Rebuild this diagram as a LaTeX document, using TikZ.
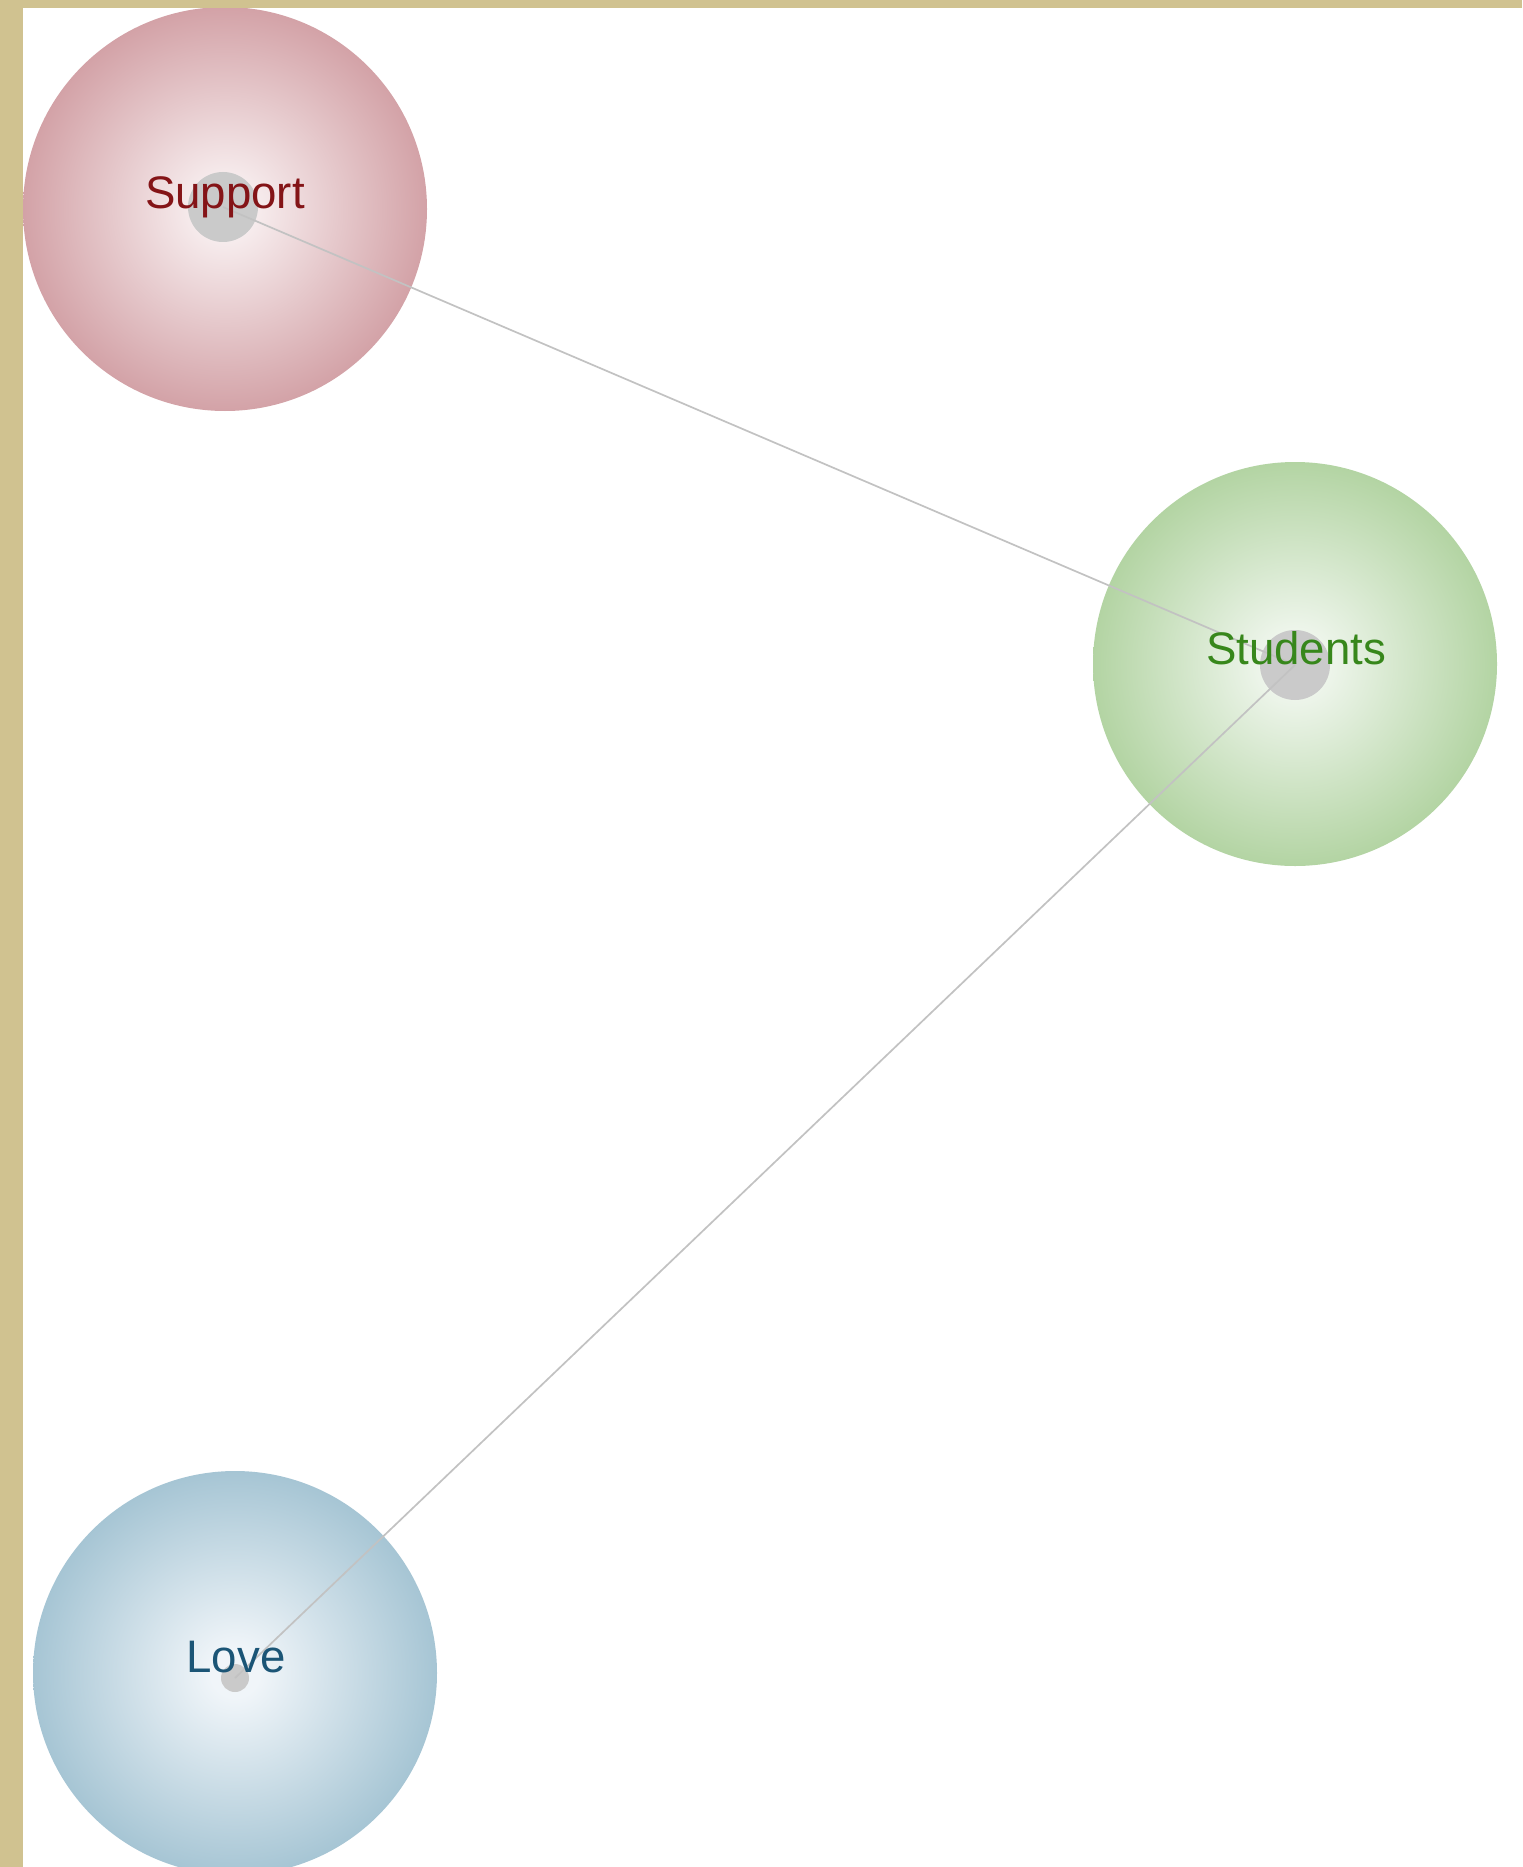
\documentclass[tikz,border=0pt]{standalone}
\usepackage{fontspec}
\setmainfont{Liberation Sans}
\definecolor{framecol}{HTML}{D0C290}
\definecolor{suppin}{HTML}{F8EFF0}
\definecolor{suppout}{HTML}{D3A2A7}
\definecolor{studin}{HTML}{F1F7EF}
\definecolor{studout}{HTML}{B3D4A3}
\definecolor{lovein}{HTML}{F0F5F9}
\definecolor{loveout}{HTML}{A6C5D4}
\definecolor{supptext}{HTML}{841417}
\definecolor{studtext}{HTML}{37871B}
\definecolor{lovetext}{HTML}{1B5576}
\definecolor{dotcol}{HTML}{CACACA}
\definecolor{linkcol}{HTML}{C2C2C2}
\pgfdeclareradialshading{suppshade}{\pgfpoint{0bp}{0bp}}{color(0bp)=(suppin); color(3bp)=(suppin); color(25bp)=(suppout); color(50bp)=(suppout)}
\pgfdeclareradialshading{studshade}{\pgfpoint{0bp}{0bp}}{color(0bp)=(studin); color(3bp)=(studin); color(25bp)=(studout); color(50bp)=(studout)}
\pgfdeclareradialshading{loveshade}{\pgfpoint{0bp}{0bp}}{color(0bp)=(lovein); color(3bp)=(lovein); color(25bp)=(loveout); color(50bp)=(loveout)}
\tikzset{
  bubble/.style={circle, inner sep=0pt, minimum size=202pt, shade},
  hub/.style={circle, inner sep=0pt, fill=dotcol},
  link/.style={draw=linkcol, line width=0.85pt},
  tag/.style={inner sep=0pt, anchor=base, font=\fontsize{22.8}{27}\selectfont},
}
\begin{document}
\begin{tikzpicture}[x=0.5pt, y=-0.5pt]
\useasboundingbox (0,0) rectangle (1522,1867);
\clip (0,0) rectangle (1522,1867);
\fill[white] (0,0) rectangle (1522,1867);
% bubbles
\node[bubble, shading=suppshade] (supp) at (225,209) {};
\node[bubble, shading=studshade] (stud) at (1295,664) {};
\node[bubble, shading=loveshade] (love) at (235,1673) {};
% hubs
\node[hub, minimum size=35pt] (sdot) at (223,207) {};
\node[hub, minimum size=35pt] (tdot) at (1295,665) {};
\node[hub, minimum size=14pt] (ldot) at (235,1678) {};
% links
\draw[link] (sdot.center) -- (tdot.center);
\draw[link] (tdot.center) -- (ldot.center);
% labels
\node[tag, text=supptext] (supplabel) at (225,209) {Support};
\node[tag, text=studtext] (studlabel) at (1296,664) {Students};
\node[tag, text=lovetext] (lovelabel) at (236,1672) {Love};
% frame
\fill[framecol] (0,0) rectangle (23,1867);
\fill[framecol] (0,0) rectangle (1522,8);
\end{tikzpicture}
\end{document}
